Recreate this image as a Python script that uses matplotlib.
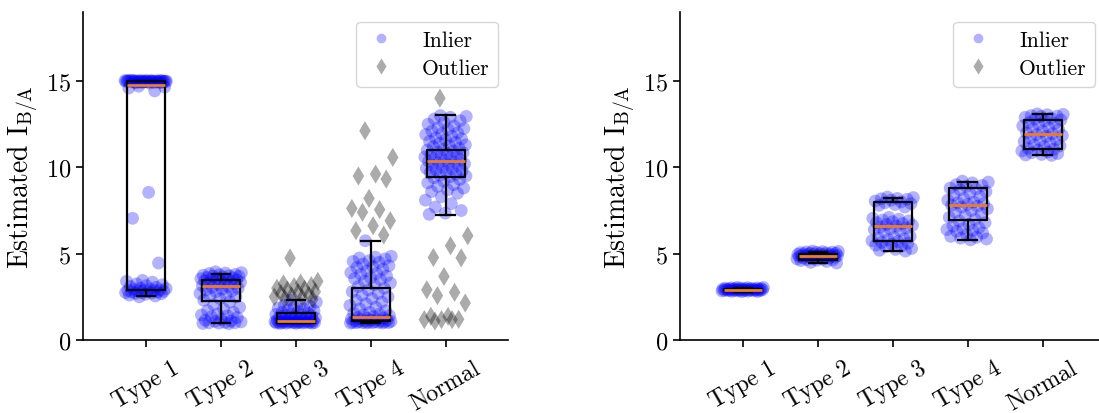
import matplotlib.pyplot as plt
from matplotlib.lines import Line2D

plt.rcParams['font.family'] = 'cmr10'
plt.rcParams['mathtext.fontset'] = 'cm'
plt.rcParams['axes.formatter.use_mathtext'] = True
plt.rcParams['font.size'] = 17.5

CATEGORIES = ["Type 1", "Type 2", "Type 3", "Type 4", "Normal"]

# ---- left panel: estimates with outliers ----
left_t1_in = [15.02, 14.98, 15.0, 14.95, 15.03, 14.97, 15.01, 14.92, 15.0, 14.99, 14.96, 15.04,
              14.94, 15.0, 14.98, 15.02, 14.9, 15.01, 14.97, 15.03, 14.99, 14.95, 15.0, 14.88,
              15.02, 14.98, 14.93, 15.01, 14.99, 15.0, 14.97, 15.02, 14.96, 15.01, 14.94,
              15.03, 14.98, 15.0, 14.91, 15.02, 14.6, 14.43, 14.7, 14.65, 8.55, 7.05, 4.46,
              3.45, 3.4, 3.35, 3.25, 3.2, 3.15, 3.1, 3.05, 3.0, 2.98, 2.95, 2.93, 2.9, 2.88,
              2.87, 2.85, 2.84, 2.82, 2.8, 2.79, 2.78, 2.76, 2.75, 2.72, 2.7, 2.68, 2.65, 2.6,
              2.55, 2.5]
left_t2_in = [3.95, 3.9, 3.88, 3.85, 3.8, 3.78, 3.75, 3.72, 3.7, 3.68, 3.65, 3.62, 3.6, 3.58,
              3.55, 3.52, 3.5, 3.48, 3.45, 3.42, 3.4, 3.38, 3.35, 3.3, 3.28, 3.25, 3.2, 3.15,
              3.1, 3.05, 3.0, 2.95, 2.9, 2.85, 2.8, 2.7, 2.6, 2.55, 2.5, 2.4, 2.3, 2.2, 2.05,
              1.9, 1.8, 1.7, 1.6, 1.5, 1.45, 1.4, 1.35, 1.3, 1.2, 1.15, 1.1, 1.08, 1.05, 1.02,
              1.0, 1.0, 0.98, 0.96, 0.95]
left_t3_in = [2.3, 2.2, 2.1, 2.0, 1.95, 1.9, 1.85, 1.8, 1.75, 1.7, 1.65, 1.6, 1.55, 1.5, 1.48,
              1.45, 1.42, 1.4, 1.38, 1.35, 1.32, 1.3, 1.28, 1.25, 1.22, 1.2, 1.18, 1.16, 1.15,
              1.13, 1.12, 1.1, 1.09, 1.08, 1.07, 1.06, 1.05, 1.05, 1.04, 1.03, 1.03, 1.02,
              1.02, 1.01, 1.01, 1.0, 1.0, 1.0, 0.99, 0.99, 0.98, 0.98, 0.97, 0.96]
left_t4_in = [5.75, 4.85, 4.8, 4.75, 4.7, 4.6, 4.55, 4.5, 4.4, 4.3, 4.25, 4.2, 4.1, 4.0, 3.9,
              3.85, 3.8, 3.7, 3.6, 3.55, 3.5, 3.4, 3.3, 3.2, 3.1, 3.0, 2.9, 2.8, 2.7, 2.6, 2.5,
              2.4, 2.3, 2.2, 2.1, 2.0, 1.9, 1.8, 1.7, 1.6, 1.55, 1.5, 1.45, 1.4, 1.35, 1.3,
              1.28, 1.25, 1.22, 1.2, 1.18, 1.16, 1.15, 1.12, 1.1, 1.09, 1.08, 1.06, 1.05, 1.04,
              1.03, 1.02, 1.02, 1.01, 1.01, 1.0, 1.0, 0.99, 0.99, 0.98]
left_nm_in = [13.0, 12.95, 12.9, 12.8, 12.7, 12.6, 12.5, 12.4, 12.3, 12.25, 12.2, 12.1, 12.0,
              11.95, 11.9, 11.8, 11.7, 11.65, 11.6, 11.5, 11.45, 11.4, 11.3, 11.25, 11.2, 11.1,
              11.05, 11.0, 10.95, 10.9, 10.85, 10.8, 10.75, 10.7, 10.65, 10.6, 10.55, 10.5,
              10.45, 10.4, 10.35, 10.3, 10.25, 10.2, 10.15, 10.1, 10.05, 10.0, 9.95, 9.9,
              9.85, 9.8, 9.75, 9.7, 9.6, 9.55, 9.5, 9.45, 9.4, 9.3, 9.2, 9.1, 9.0, 8.9, 8.8,
              8.7, 8.6, 8.5, 8.3, 8.1, 7.9, 7.7, 7.5, 7.35, 7.28]

left_t1_out = []
left_t2_out = []
left_t3_out = [4.75, 3.4, 3.3, 3.25, 3.15, 3.1, 3.0, 2.95, 2.9, 2.8, 2.75, 2.7, 2.6, 2.55,
               2.5, 2.45, 2.4, 2.35]
left_t4_out = [12.12, 10.58, 9.61, 9.5, 9.32, 8.2, 7.62, 7.55, 7.4, 6.91, 6.62, 6.33, 6.08]
left_nm_out = [14.01, 6.04, 5.46, 4.78, 4.76, 3.68, 2.91, 2.76, 2.57, 2.14, 1.37, 1.37, 1.2,
               1.18, 1.18, 1.18, 1.1]

left_q1 = [2.9, 2.26, 1.0, 1.08, 9.42]
left_med = [14.8, 3.12, 1.08, 1.35, 10.38]
left_q3 = [15.0, 3.48, 1.54, 2.99, 11.02]
left_lo = [2.55, 1.0, 0.98, 1.0, 7.26]
left_hi = [15.0, 3.85, 2.3, 5.71, 13.05]

# ---- right panel: estimates, inliers only ----
right_t1_in = [3.05, 3.04, 3.03, 3.02, 3.01, 3.0, 3.0, 2.99, 2.98, 2.98, 2.97, 2.96, 2.96,
               2.95, 2.95, 2.94, 2.94, 2.93, 2.93, 2.92, 2.92, 2.91, 2.91, 2.9, 2.9, 2.89,
               2.89, 2.88, 2.88, 2.87, 2.87, 2.86, 2.86, 2.85, 2.85, 2.84, 2.83, 2.82, 2.81,
               2.8]
right_t2_in = [5.15, 5.13, 5.12, 5.1, 5.09, 5.08, 5.06, 5.05, 5.03, 5.02, 5.0, 4.99, 4.98,
               4.97, 4.96, 4.95, 4.94, 4.93, 4.92, 4.91, 4.9, 4.89, 4.88, 4.87, 4.86, 4.85,
               4.84, 4.83, 4.82, 4.81, 4.8, 4.78, 4.76, 4.75, 4.72, 4.7, 4.68, 4.66, 4.64,
               4.62, 4.6, 4.55, 4.5, 4.46]
right_t3_in = [8.28, 8.25, 8.2, 8.18, 8.15, 8.1, 8.05, 8.0, 7.95, 7.9, 7.85, 7.8, 7.7, 7.1,
               7.05, 7.0, 6.95, 6.9, 6.85, 6.8, 6.75, 6.7, 6.65, 6.6, 6.55, 6.5, 6.45, 6.4,
               6.35, 6.3, 6.0, 5.95, 5.9, 5.85, 5.8, 5.75, 5.7, 5.65, 5.6, 5.55, 5.5, 5.45,
               5.4, 5.3, 5.25, 5.2, 5.15]
right_t4_in = [9.2, 9.15, 9.1, 9.0, 8.95, 8.9, 8.8, 8.75, 8.7, 8.6, 8.5, 8.4, 8.3, 8.2, 8.1,
               8.0, 7.95, 7.9, 7.85, 7.8, 7.75, 7.7, 7.6, 7.5, 7.4, 7.3, 7.2, 7.1, 7.0, 6.9,
               6.8, 6.7, 6.6, 6.5, 6.45, 6.4, 6.35, 6.3, 6.2, 6.1, 6.0, 5.95, 5.9, 5.85, 5.8]
right_nm_in = [13.1, 13.07, 13.05, 13.0, 12.97, 12.95, 12.9, 12.85, 12.8, 12.75, 12.7, 12.6,
               12.55, 12.5, 12.4, 12.3, 12.25, 12.2, 12.1, 12.0, 11.95, 11.9, 11.85, 11.8,
               11.7, 11.6, 11.55, 11.5, 11.4, 11.3, 11.25, 11.2, 11.1, 11.05, 11.0, 10.95,
               10.9, 10.85, 10.8, 10.75, 10.72, 10.7]

right_q1 = [2.86, 4.65, 5.71, 6.95, 11.06]
right_med = [2.92, 4.85, 6.62, 7.82, 11.93]
right_q3 = [2.97, 4.98, 7.97, 8.78, 12.76]
right_lo = [2.8, 4.44, 5.14, 5.81, 10.71]
right_hi = [3.04, 5.12, 8.24, 9.17, 13.09]

INLIER_COLOR = 'blue'
OUTLIER_COLOR = 'k'
MEDIAN_COLOR = '#f07d1a'


def spread(n, width=0.56):
    # deterministic strip offsets (golden-ratio sequence) so points don't stack
    return [((k * 0.618034 + 0.37) % 1.0 - 0.5) * width for k in range(n)]


def draw_panel(ax, inliers, outliers, q1, med, q3, lo, hi):
    for pos, vals in enumerate(inliers):
        xs = [pos + d for d in spread(len(vals))]
        ax.scatter(xs, vals, s=85, color=INLIER_COLOR, alpha=0.3, edgecolors='none', zorder=1)
    for pos, vals in enumerate(outliers):
        if not vals:
            continue
        xs = [pos + d for d in spread(len(vals), 0.6)]
        ax.scatter(xs, vals, s=95, marker='d', color=OUTLIER_COLOR, alpha=0.33,
                   edgecolors='none', zorder=1)

    stats = [dict(q1=a, med=m, q3=b, whislo=l, whishi=h, fliers=[])
             for a, m, b, l, h in zip(q1, med, q3, lo, hi)]
    line = dict(color='k', linewidth=1.6, zorder=3)
    ax.bxp(stats, positions=range(len(stats)), widths=0.5, showfliers=False,
           boxprops=line, whiskerprops=line, capprops=line,
           medianprops=dict(color=MEDIAN_COLOR, linewidth=2, zorder=4))

    ax.set_xlim(-0.84, 4.83)
    ax.set_ylim(0, 19)
    ax.set_yticks([0, 5, 10, 15])
    ax.set_xticks(range(len(CATEGORIES)))
    ax.set_xticklabels(CATEGORIES, rotation=30, ha='center')
    ax.tick_params(length=5, width=1.2)
    ax.tick_params(axis='x', pad=7, labelsize=17)
    ax.spines['top'].set_visible(False)
    ax.spines['right'].set_visible(False)
    for side in ('left', 'bottom'):
        ax.spines[side].set_linewidth(1.2)
    ax.set_ylabel(r'Estimated $\mathrm{I_{B/A}}$', fontsize=20, labelpad=4)

    handles = [
        Line2D([], [], ls='none', marker='o', markersize=7, color=INLIER_COLOR, alpha=0.3,
               markeredgecolor='none'),
        Line2D([], [], ls='none', marker='d', markersize=8, color=OUTLIER_COLOR, alpha=0.33,
               markeredgecolor='none'),
    ]
    leg = ax.legend(handles, ['Inlier', 'Outlier'], loc='upper right', fontsize=15.5,
                    handlelength=1.45, handletextpad=1.2, labelspacing=0.4,
                    borderpad=0.4, borderaxespad=0.45)
    leg.get_frame().set_edgecolor('0.8')


fig = plt.figure(figsize=(10.99, 4.14), dpi=100)
ax_left = fig.add_axes([83 / 1099, 73 / 414, 425 / 1099, 328 / 414])
ax_right = fig.add_axes([680 / 1099, 73 / 414, 425 / 1099, 328 / 414])

draw_panel(ax_left,
           [left_t1_in, left_t2_in, left_t3_in, left_t4_in, left_nm_in],
           [left_t1_out, left_t2_out, left_t3_out, left_t4_out, left_nm_out],
           left_q1, left_med, left_q3, left_lo, left_hi)
draw_panel(ax_right,
           [right_t1_in, right_t2_in, right_t3_in, right_t4_in, right_nm_in],
           [[], [], [], [], []],
           right_q1, right_med, right_q3, right_lo, right_hi)

fig.savefig('out.png', dpi=100)
